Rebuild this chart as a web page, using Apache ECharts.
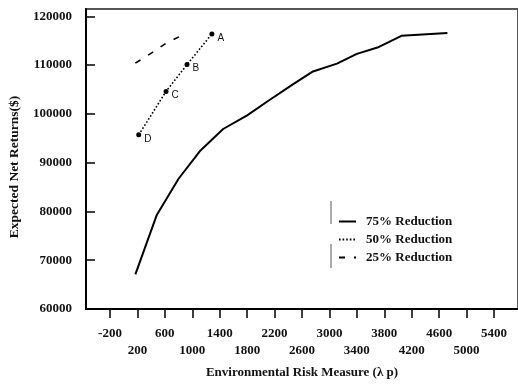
<!DOCTYPE html>
<html>
<head>
<meta charset="utf-8">
<script src="https://cdn.jsdelivr.net/npm/echarts@6/dist/echarts.min.js"></script>
<style>
html, body { margin: 0; background: #fff; }
#chart { width: 518px; height: 384px; }
</style>
</head>
<body>
<div id="chart"></div>
<script>
// 75% reduction curve
const risk75 = [170, 480, 800, 1120, 1450, 1800, 2110, 2450, 2760, 3110, 3400, 3700, 4050, 4720];
const returns75 = [67100, 79200, 86700, 92500, 96900, 99700, 102700, 105900, 108700, 110300, 112300, 113600, 116000, 116600];
// 50% reduction curve (points D, C, B, A)
const risk50 = [219, 617, 923, 1286];
const returns50 = [95700, 104600, 110100, 116400];
const names50 = ['D', 'C', 'B', 'A'];
// 25% reduction curve
const risk25 = [170, 420, 640, 870];
const returns25 = [110400, 112600, 114700, 116200];

const xTicks = [-200, 200, 600, 1000, 1400, 1800, 2200, 2600, 3000, 3400, 3800, 4200, 4600, 5000, 5400];
const yTicks = [60000, 70000, 80000, 90000, 100000, 110000, 120000];

const serif = '"Liberation Serif", "Times New Roman", serif';

const pairs = (xs, ys) => xs.map((x, i) => [x, ys[i]]);

const chart = echarts.init(document.getElementById('chart'));
chart.setOption({
    animation: false,
    grid: { left: 86, right: 0, top: 9, bottom: 75, show: true, borderColor: '#555', borderWidth: 2 },
    legend: {
        orient: 'vertical',
        left: 333,
        top: 210,
        itemWidth: 17,
        itemHeight: 14,
        itemGap: 5,
        itemStyle: { opacity: 0 },
        textStyle: { fontFamily: serif, fontWeight: 'bold', fontSize: 13, color: '#111', padding: [0, 0, 0, 5] },
        data: ['75% Reduction', '50% Reduction', '25% Reduction']
    },
    xAxis: {
        type: 'value',
        min: -550,
        max: 5750,
        name: 'Environmental Risk Measure (\u03bb p)',
        nameLocation: 'middle',
        nameGap: 57,
        nameTextStyle: { fontFamily: serif, fontWeight: 'bold', fontSize: 13, color: '#111' },
        axisLine: { onZero: false, lineStyle: { color: '#000', width: 2 } },
        axisTick: { customValues: xTicks, length: 9, lineStyle: { color: '#000', width: 1.5 } },
        axisLabel: {
            customValues: xTicks,
            margin: 16,
            lineHeight: 17,
            fontFamily: serif, fontWeight: 'bold', fontSize: 13, color: '#111',
            formatter: v => (((v + 200) / 400) % 2 === 1 ? '\n' : '') + v
        },
        splitLine: { show: false }
    },
    yAxis: {
        type: 'value',
        min: 60000,
        max: 121500,
        name: 'Expected Net Returns($)',
        nameLocation: 'middle',
        nameGap: 64,
        nameTextStyle: { fontFamily: serif, fontWeight: 'bold', fontSize: 13.5, color: '#111', padding: [0, 16, 0, 0] },
        axisLine: { show: true, onZero: false, lineStyle: { color: '#000', width: 2 } },
        axisTick: { show: true, inside: true, customValues: yTicks, length: 9, lineStyle: { color: '#000', width: 1.5 } },
        axisLabel: {
            customValues: yTicks, margin: 14,
            fontFamily: serif, fontWeight: 'bold', fontSize: 13, color: '#111',
            formatter: v => String(v)
        },
        splitLine: { show: false }
    },
    series: [
        {
            name: '75% Reduction',
            type: 'line',
            symbol: 'none',
            data: pairs(risk75, returns75),
            lineStyle: { color: '#000', width: 2 },
            itemStyle: { color: '#000' }
        },
        {
            name: '50% Reduction',
            type: 'line',
            symbol: 'none',
            data: risk50.map((x, i) => ({
                value: [x, returns50[i]],
                symbol: 'circle',
                symbolSize: 5,
                label: { show: true, formatter: names50[i] }
            })),
            label: { position: 'right', distance: 3, offset: [0, 4], fontFamily: '"Liberation Sans", Arial, sans-serif', fontSize: 10, color: '#111' },
            lineStyle: { color: '#000', width: 1.6, type: [1.6, 2] },
            itemStyle: { color: '#000' }
        },
        {
            name: '25% Reduction',
            type: 'line',
            symbol: 'none',
            data: pairs(risk25, returns25),
            lineStyle: { color: '#000', width: 1.6, type: [6, 9] },
            itemStyle: { color: '#000' }
        }
    ],
    graphic: [
        { type: 'line', shape: { x1: 331, y1: 201, x2: 331, y2: 224 }, style: { stroke: '#555', lineWidth: 1 } },
        { type: 'line', shape: { x1: 331, y1: 244, x2: 331, y2: 268 }, style: { stroke: '#555', lineWidth: 1 } }
    ]
});
</script>
</body>
</html>
